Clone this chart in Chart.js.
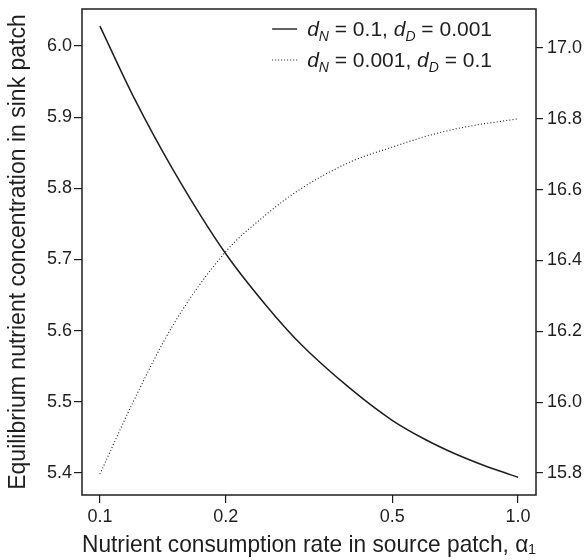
<!DOCTYPE html>
<html>
<head>
<meta charset="utf-8">
<script src="https://cdn.jsdelivr.net/npm/chart.js@4.4.1/dist/chart.umd.min.js"></script>
<style>
  html, body { margin: 0; padding: 0; background: #ffffff; }
  #wrap { width: 585px; height: 560px; position: relative; }
</style>
</head>
<body>
<div id="wrap"><canvas id="sinkChart"></canvas></div>
<script>
/* --------------- Data ----------------------------------------- */
const alphaValues = [0.1, 0.12, 0.15, 0.2, 0.25, 0.3, 0.4, 0.5, 0.6, 0.7, 0.8, 0.9, 1.0];
// d_N = 0.1, d_D = 0.001 (left axis)
const sinkSolid = [6.028, 5.930, 5.825, 5.708, 5.635, 5.583, 5.517, 5.474, 5.447, 5.428, 5.414, 5.403, 5.394];
// d_N = 0.001, d_D = 0.1 (right axis)
const sinkDotted = [15.797, 16.00, 16.22, 16.425, 16.53, 16.60, 16.68, 16.72, 16.75, 16.77, 16.783, 16.792, 16.80];

/* --------------- Tick labels --------------------- */
const xTickValues = [0.1, 0.2, 0.5, 1.0];
const leftTickValues = [5.4, 5.5, 5.6, 5.7, 5.8, 5.9, 6.0];
const rightTickValues = [15.8, 16.0, 16.2, 16.4, 16.6, 16.8, 17.0];

/* --------------- Legend values --------------------- */
const legendDN = ["0.1", "0.001"];
const legendDD = ["0.001", "0.1"];

const FONT = '"Liberation Sans", Arial, Helvetica, sans-serif';
const INK = "#1e1e1e";

const toPairs = (ys) => alphaValues.map((a, i) => ({ x: a, y: ys[i] }));
const fixTicks = (values) => (scale) => {
    scale.ticks = values.map(v => ({ value: v }));
};
// fixed axis size, and no extra room for half tick labels at the ends
const fitTo = (key, px) => (scale) => {
    scale[key] = px;
    scale.paddingTop = 0;
    scale.paddingBottom = 0;
    scale.paddingLeft = 0;
    scale.paddingRight = 0;
};

/* --------------- Box round the plot --------------------- */
const plotBox = {
    id: "plotBox",
    afterDraw(chart) {
        const { ctx, chartArea: a } = chart;
        ctx.save();
        ctx.strokeStyle = INK;
        ctx.lineWidth = 1.5;
        ctx.strokeRect(a.left, a.top, a.right - a.left, a.bottom - a.top);
        ctx.restore();
    }
};

/* --------------- Legend with italic d and subscripts --------------------- */
const mathLegend = {
    id: "mathLegend",
    afterDraw(chart) {
        const { ctx, chartArea: a } = chart;
        const big = "21px " + FONT;
        const bigIt = "italic 21px " + FONT;
        const small = "italic 14px " + FONT;
        const rows = legendDN.map((dn, i) => [
            ["d", bigIt, 0], ["N", small, 5], [" = " + dn + ", ", big, 0],
            ["d", bigIt, 0], ["D", small, 5], [" = " + legendDD[i], big, 0]
        ]);
        const rowWidth = (parts) => parts.reduce((w, p) => {
            ctx.font = p[1];
            return w + ctx.measureText(p[0]).width;
        }, 0);

        ctx.save();
        ctx.fillStyle = INK;
        ctx.strokeStyle = INK;
        ctx.textBaseline = "alphabetic";
        const textEnd = a.right - 44;
        const textStart = textEnd - Math.max(...rows.map(rowWidth));
        rows.forEach((parts, i) => {
            const cy = a.top + 20 + i * 31;
            ctx.beginPath();
            ctx.lineWidth = i === 0 ? 1.4 : 1.1;
            ctx.setLineDash(i === 0 ? [] : [1, 2]);
            ctx.moveTo(textStart - 35, cy);
            ctx.lineTo(textStart - 10, cy);
            ctx.stroke();
            let x = textStart;
            parts.forEach(p => {
                ctx.font = p[1];
                ctx.fillText(p[0], x, cy + 7 + p[2]);
                x += ctx.measureText(p[0]).width;
            });
        });
        ctx.restore();
    }
};

/* --------------- Chart --------------------- */
const tickFont = { family: FONT, size: 18 };

let sinkChart = new Chart(document.getElementById("sinkChart"), {
    type: "line",
    plugins: [plotBox, mathLegend],
    data: {
        datasets: [
            {
                label: "d_N = 0.1, d_D = 0.001",
                data: toPairs(sinkSolid),
                yAxisID: "y",
                borderColor: INK,
                borderWidth: 1.5,
                pointRadius: 0,
                cubicInterpolationMode: "monotone",
                fill: false
            },
            {
                label: "d_N = 0.001, d_D = 0.1",
                data: toPairs(sinkDotted),
                yAxisID: "y1",
                borderColor: INK,
                borderWidth: 1.1,
                borderDash: [1, 2.2],
                pointRadius: 0,
                cubicInterpolationMode: "monotone",
                fill: false
            }
        ]
    },
    options: {
        responsive: true,
        maintainAspectRatio: false,
        animation: false,
        events: [],
        layout: { padding: { top: 9, left: 0, right: 0, bottom: 0 } },
        plugins: {
            legend: { display: false },
            tooltip: { enabled: false }
        },
        scales: {
            x: {
                type: "logarithmic",
                min: 0.0906,
                max: 1.104,
                afterBuildTicks: fixTicks(xTickValues),
                afterFit: fitTo("height", 65),
                border: { display: false },
                grid: { drawOnChartArea: false, tickLength: 8, tickColor: INK, lineWidth: 1.2 },
                ticks: {
                    color: INK, font: tickFont, padding: 3,
                    maxRotation: 0, autoSkip: false,
                    callback: (v) => Number(v).toFixed(1)
                },
                title: {
                    display: true,
                    text: "Nutrient consumption rate in source patch, α₁",
                    color: INK, font: { family: FONT, size: 24 },
                    padding: { top: 0, bottom: 0 }
                }
            },
            y: {
                position: "left",
                min: 5.369,
                max: 6.052,
                afterBuildTicks: fixTicks(leftTickValues),
                afterFit: fitTo("width", 82),
                border: { display: false },
                grid: { drawOnChartArea: false, tickLength: 8, tickColor: INK, lineWidth: 1.2 },
                ticks: {
                    color: INK, font: tickFont, padding: 2,
                    callback: (v) => Number(v).toFixed(1)
                },
                title: {
                    display: true,
                    text: "Equilibrium nutrient concentration in sink patch",
                    color: INK, font: { family: FONT, size: 23 },
                    padding: { top: 5, bottom: 0 }
                }
            },
            y1: {
                position: "right",
                min: 15.738,
                max: 17.110,
                afterBuildTicks: fixTicks(rightTickValues),
                afterFit: fitTo("width", 49),
                border: { display: false },
                grid: { drawOnChartArea: false, tickLength: 7, tickColor: INK, lineWidth: 1.2 },
                ticks: {
                    color: INK, font: tickFont, padding: 4,
                    callback: (v) => Number(v).toFixed(1)
                }
            }
        }
    }
});
</script>
</body>
</html>
